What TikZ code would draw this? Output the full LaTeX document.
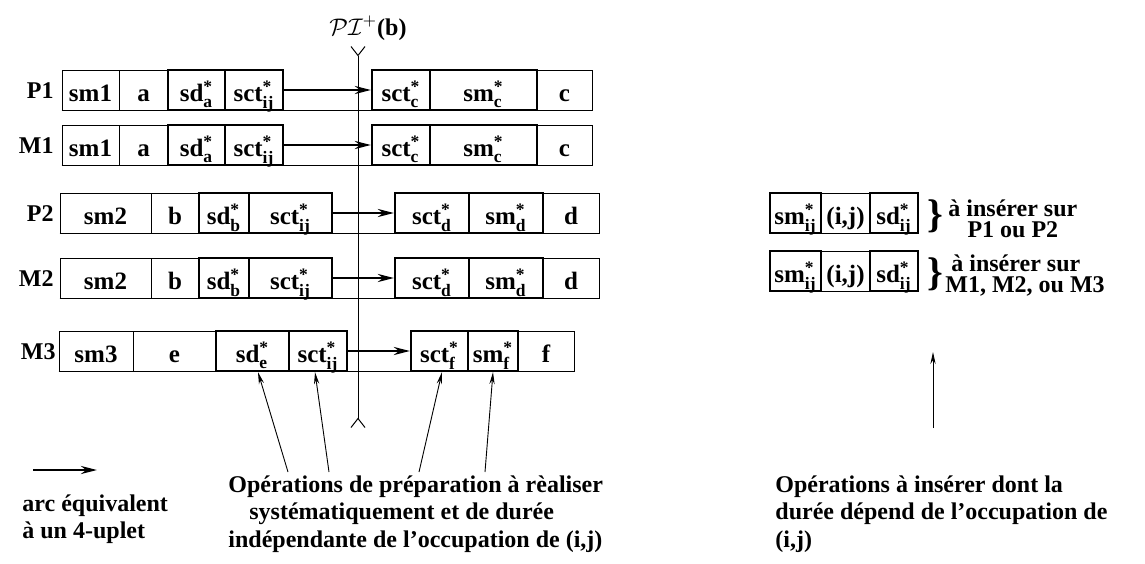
\documentclass[tikz,border=0pt]{standalone}
\usepackage{amsmath}
\usepackage{fontspec}
\setmainfont{Liberation Serif}
\usetikzlibrary{arrows.meta}

\newcommand{\opn}[2]{#1$^{\text{*}}_{\text{#2}}$}

\begin{document}
\begin{tikzpicture}[x=0.5pt, y=-0.5pt,
    cell/.style={draw, line width=0.5pt, minimum height=20pt, inner sep=0pt,
      text height=11.5pt, text depth=0pt, font=\fontsize{12.5}{14}\selectfont\bfseries},
    opcell/.style={cell, line width=1.1pt},
    arcline/.style={line width=1.3pt, -{Stealth[length=8pt, width=4pt]}},
    pointer/.style={line width=0.45pt, -{Stealth[length=6pt, width=2.6pt]}},
    lbl/.style={font=\fontsize{12}{13.75}\selectfont\bfseries},
    rowlbl/.style={lbl, anchor=base east, inner sep=0pt}]
    \useasboundingbox (0,0) rectangle (1145,563);

    % Axis PI+(b)
    \node[lbl] (pilabel) at (368,28) {$\mathcal{PI}^{+}$(b)};
    \coordinate (pitop) at (358,46);
    \coordinate (pibot) at (358,428);
    \draw[line width=0.5pt, {Straight Barb[reversed, length=4.5pt, width=7pt]}-{Straight Barb[reversed, length=4.5pt, width=7pt]}] (pitop) -- (pibot);

    % Rows P1 and M1
    \foreach \r/\yy in {P1/90, M1/145} {
        \node[rowlbl] (\r) at (54,\yy+8) {\r};
        \node[cell, minimum width=28.5pt] (\r-sm) at (90.5,\yy) {sm1};
        \node[cell, minimum width=24.5pt] (\r-a) at (143.5,\yy) {a};
        \node[opcell, minimum width=28.5pt] (\r-sd) at (196.5,\yy) {\opn{sd}{a}};
        \node[opcell, minimum width=29pt] (\r-sct) at (254,\yy) {\opn{sct}{ij}};
        \node[opcell, minimum width=29pt] (\r-sctc) at (401,\yy) {\opn{sct}{c}};
        \node[opcell, minimum width=53.5pt] (\r-smc) at (483.5,\yy) {\opn{sm}{c}};
        \node[cell, minimum width=27.5pt] (\r-c) at (564.5,\yy) {c};
        \draw[line width=0.5pt] (\r-sm.south west) -- (\r-c.south east);
        \draw[arcline] (\r-sct.east) -- (\r-sctc.west);
    }

    % Rows P2 and M2
    \foreach \r/\yy in {P2/213, M2/278} {
        \node[rowlbl] (\r) at (54,\yy+8) {\r};
        \node[cell, minimum width=45.5pt] (\r-sm) at (105.5,\yy) {sm2};
        \node[cell, minimum width=24pt] (\r-b) at (175,\yy) {b};
        \node[opcell, minimum width=25pt] (\r-sd) at (224,\yy) {\opn{sd}{b}};
        \node[opcell, minimum width=41.5pt] (\r-sct) at (290.5,\yy) {\opn{sct}{ij}};
        \node[opcell, minimum width=37pt] (\r-sctd) at (432,\yy) {\opn{sct}{d}};
        \node[opcell, minimum width=37pt] (\r-smd) at (506,\yy) {\opn{sm}{d}};
        \node[cell, minimum width=28pt] (\r-d) at (571,\yy) {d};
        \draw[line width=0.5pt] (\r-sm.south west) -- (\r-d.south east);
        \draw[arcline] (\r-sct.east) -- (\r-sctd.west);
    }

    % Row M3
    \node[rowlbl] (M3) at (56,359) {M3};
    \node[cell, minimum width=37pt] (M3-sm) at (96,351) {sm3};
    \node[cell, minimum width=41.5pt] (M3-e) at (174.5,351) {e};
    \node[opcell, minimum width=36.5pt] (M3-sd) at (252.5,351) {\opn{sd}{e}};
    \node[opcell, minimum width=29pt] (M3-sct) at (318,351) {\opn{sct}{ij}};
    \node[opcell, minimum width=28.5pt] (M3-sctf) at (439.5,351) {\opn{sct}{f}};
    \node[opcell, minimum width=25pt] (M3-smf) at (493,351) {\opn{sm}{f}};
    \node[cell, minimum width=28pt] (M3-f) at (546,351) {f};
    \draw[line width=0.5pt] (M3-sm.south west) -- (M3-f.south east);
    \draw[arcline] (M3-sct.east) -- (M3-sctf.west);

    % Operations to insert
    \foreach \k/\yy in {1/213, 2/271} {
        \node[opcell, minimum width=25.5pt] (ins\k-sm) at (795.5,\yy) {\opn{sm}{ij}};
        \node[cell, minimum width=24.5pt] (ins\k-ij) at (845.5,\yy) {(i,j)};
        \node[opcell, minimum width=24pt] (ins\k-sd) at (894,\yy) {\opn{sd}{ij}};
        \node[lbl, font=\fontsize{20}{20}\selectfont\bfseries, inner sep=0pt] (br\k) at (935,\yy+3) {\}};
    }
    \node[lbl, font=\fontsize{12}{10.5}\selectfont\bfseries, anchor=west, align=center, inner sep=0pt]
        (tx1) at (948,219) {à insérer sur\\P1 ou P2};
    \node[lbl, font=\fontsize{12}{10.5}\selectfont\bfseries, anchor=west, align=left, inner sep=0pt]
        (tx2) at (945,276) {\hspace*{3pt}à insérer sur\\M1, M2, ou M3};

    % Pointers to the preparation operations
    \coordinate (q1) at (288,472);
    \coordinate (q2) at (329,472);
    \coordinate (q3) at (419,472);
    \coordinate (q4) at (485,472);
    \draw[pointer] (q1) -- ([xshift=2.75pt]M3-sd.south);
    \draw[pointer] (q2) -- ([xshift=-1.5pt]M3-sct.south);
    \draw[pointer] (q3) -- ([xshift=1.25pt]M3-sctf.south);
    \draw[pointer] (q4) -- (M3-smf.south);

    \coordinate (rfoot) at (933,428);
    \coordinate (rtip) at (933,352);
    \draw[pointer] (rfoot) -- (rtip);

    % Legend and captions
    \coordinate (la) at (33,470);
    \coordinate (lb) at (97,470);
    \draw[arcline] (la) -- (lb);
    \node[lbl, anchor=north west, align=left, inner sep=0pt] (legtext) at (22,494)
        {arc équivalent\\à un 4-uplet};
    \node[lbl, anchor=north west, align=left, inner sep=0pt] (prep) at (228,475)
        {Opérations de préparation à rèaliser\\
         \hspace*{10.5pt}systématiquement et de durée\\
         indépendante de l'occupation de (i,j)};
    \node[lbl, anchor=north west, align=left, inner sep=0pt] (insert) at (775,475)
        {Opérations à insérer dont la\\
         durée dépend de l'occupation de\\
         (i,j)};
\end{tikzpicture}
\end{document}
